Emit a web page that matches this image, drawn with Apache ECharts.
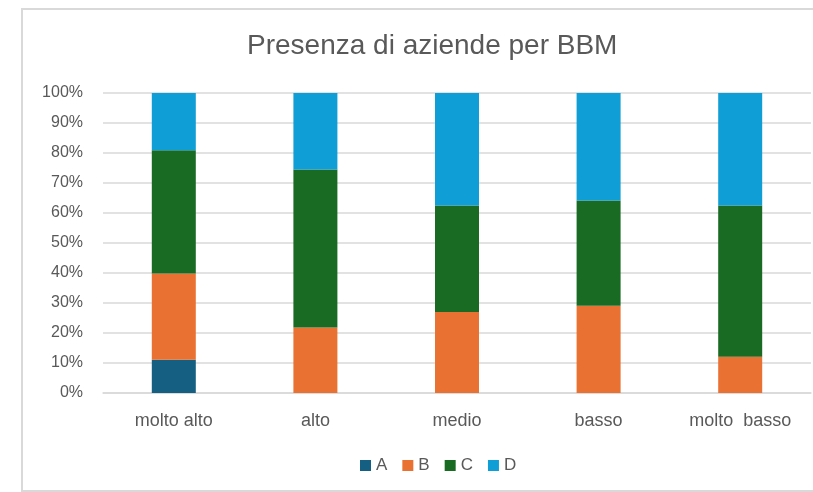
<!DOCTYPE html>
<html>
<head>
<meta charset="utf-8">
<script src="https://cdn.jsdelivr.net/npm/echarts@6/dist/echarts.min.js"></script>
<style>
html,body{margin:0;padding:0;background:#fff;}
#chart{width:813px;height:492px;}
</style>
</head>
<body>
<div id="chart"></div>
<script>
const categories = ['molto alto', 'alto', 'medio', 'basso', 'molto  basso'];
const seriesNames = ['A', 'B', 'C', 'D'];
const valuesA = [11.1, 0, 0, 0, 0];
const valuesB = [28.7, 21.8, 27.0, 29.1, 12.1];
const valuesC = [41.1, 52.7, 35.5, 35.1, 50.4];
const valuesD = [19.1, 25.5, 37.5, 35.8, 37.5];
const colors = ['#156082', '#E97132', '#196B24', '#0F9ED5'];
const yTicks = [0, 10, 20, 30, 40, 50, 60, 70, 80, 90, 100];

const font = 'Liberation Sans';
const textColor = '#595959';
const allValues = [valuesA, valuesB, valuesC, valuesD];

const chart = echarts.init(document.getElementById('chart'), null, {renderer: 'canvas'});
chart.setOption({
  animation: false,
  backgroundColor: '#ffffff',
  color: colors,
  graphic: [{
    type: 'rect',
    shape: {x: 22, y: 9, width: 830, height: 482},
    style: {fill: 'none', stroke: '#d9d9d9', lineWidth: 2},
    silent: true
  }],
  title: {
    text: 'Presenza di aziende per BBM',
    left: 247,
    top: 32,
    padding: 0,
    textStyle: {fontFamily: font, fontSize: 28, fontWeight: 'normal', color: textColor}
  },
  legend: {
    data: seriesNames,
    left: 360,
    top: 457,
    padding: 0,
    itemWidth: 11,
    itemHeight: 11,
    itemGap: 15,
    icon: 'rect',
    textStyle: {fontFamily: font, fontSize: 17, color: textColor}
  },
  grid: {left: 103, width: 708, top: 93, bottom: 99, containLabel: false},
  xAxis: {
    type: 'category',
    data: categories,
    axisLine: {lineStyle: {color: '#d9d9d9', width: 1.5}},
    axisTick: {show: false},
    axisLabel: {fontFamily: font, fontSize: 18, color: textColor, margin: 19}
  },
  yAxis: {
    type: 'value',
    min: yTicks[0],
    max: yTicks[yTicks.length - 1],
    interval: yTicks[1] - yTicks[0],
    axisLine: {show: false},
    axisTick: {show: false},
    axisLabel: {fontFamily: font, fontSize: 16, color: textColor, margin: 20, formatter: '{value}%'},
    splitLine: {lineStyle: {color: '#d9d9d9', width: 1.5}}
  },
  series: seriesNames.map((name, i) => ({
    name: name,
    type: 'bar',
    stack: 'total',
    barWidth: 44,
    data: allValues[i],
    itemStyle: {color: colors[i]}
  }))
});
</script>
</body>
</html>
